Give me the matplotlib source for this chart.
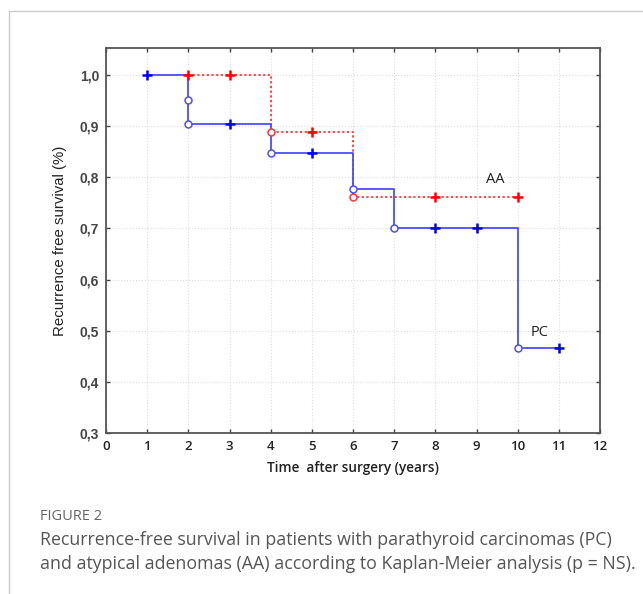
import matplotlib
matplotlib.use('Agg')
import matplotlib.pyplot as plt
from matplotlib.lines import Line2D

# PC - parathyroid carcinomas
pc_step_t = [1, 2, 2, 4, 6, 7, 10, 11]
pc_step_s = [1.0, 0.952, 0.905, 0.848, 0.778, 0.700, 0.467, 0.467]
pc_event_t = [2, 2, 4, 6, 7, 10]
pc_event_s = [0.952, 0.905, 0.848, 0.778, 0.700, 0.467]
pc_cens_t = [1, 3, 5, 8, 9, 11]
pc_cens_s = [1.0, 0.905, 0.848, 0.700, 0.700, 0.467]

# AA - atypical adenomas
aa_step_t = [2, 4, 6, 10]
aa_step_s = [1.0, 0.889, 0.762, 0.762]
aa_event_t = [4, 6]
aa_event_s = [0.889, 0.762]
aa_cens_t = [2, 3, 5, 8, 10]
aa_cens_s = [1.0, 1.0, 0.889, 0.762, 0.762]

x_ticks = list(range(0, 13))
y_ticks = [0.3, 0.4, 0.5, 0.6, 0.7, 0.8, 0.9, 1.0]
y_labels = ['0,3', '0,4', '0,5', '0,6', '0,7', '0,8', '0,9', '1,0']

fig = plt.figure(figsize=(6.43, 5.94), dpi=100)

# light frame around the figure block
fig.add_artist(Line2D([9 / 643, 1], [1 - 11 / 594] * 2, color='#cccccc', lw=1))
fig.add_artist(Line2D([9 / 643] * 2, [0, 1 - 11 / 594], color='#cccccc', lw=1))

ax = fig.add_axes([106 / 643, 1 - 433 / 594, 494 / 643, 385 / 594])

red = '#ff3333'
blue = '#4d4dff'

ax.step(aa_step_t, aa_step_s, where='post', color=red, lw=1.3, ls=(0, (1.2, 1.4)), zorder=3)
ax.step(pc_step_t, pc_step_s, where='post', color=blue, lw=1.3, zorder=4)

ax.plot(aa_event_t, aa_event_s, 'o', ms=5, mfc='white', mec=red, mew=1.1, zorder=5)
ax.plot(aa_cens_t, aa_cens_s, '+', ms=6.5, color='#ff0000', mew=1.8, zorder=5)
ax.plot(pc_event_t, pc_event_s, 'o', ms=5, mfc='white', mec=blue, mew=1.1, zorder=6)
ax.plot(pc_cens_t, pc_cens_s, '+', ms=6.5, color='#0000ee', mew=1.8, zorder=6)

ax.text(9.23, 0.795, 'AA', fontsize=10.5, family='Open Sans', color='#222222', va='center')
ax.text(10.32, 0.497, 'PC', fontsize=10.5, family='Open Sans', color='#222222', va='center')

ax.set_xlim(0, 12)
ax.set_ylim(0.3, 1.053)
ax.set_xticks(x_ticks)
ax.set_yticks(y_ticks)
ax.set_yticklabels(y_labels, family='Liberation Sans', fontsize=10, fontweight='bold', color='#444444')
ax.set_xticklabels([str(t) for t in x_ticks], family='Open Sans', fontsize=9.5,
                   fontweight='semibold', color='#222222')
ax.tick_params(direction='in', length=3, width=1, color='#444444', top=True, right=True, pad=5)
ax.grid(True, color='#dddddd', lw=0.8, ls=':')
for sp in ax.spines.values():
    sp.set_color('#555555')
    sp.set_linewidth(1.3)

ax.set_ylabel('Recurrence free survival (%)', family='Liberation Sans', fontsize=10.8,
              color='#222222', labelpad=9)
ax.set_xlabel('Time  after surgery (years)', family='Open Sans', fontsize=9.8,
              fontweight='semibold', color='#222222', labelpad=6)

fig.text(40 / 643, 1 - 516 / 594, 'FIGURE 2', family='Open Sans', fontsize=10.5, color='#666666', va='center')
fig.text(40 / 643, 1 - 540 / 594,
         'Recurrence-free survival in patients with parathyroid carcinomas (PC)',
         family='Open Sans', fontsize=12.8, color='#555555', va='center')
fig.text(40 / 643, 1 - 564 / 594,
         'and atypical adenomas (AA) according to Kaplan-Meier analysis (p = NS).',
         family='Open Sans', fontsize=12.8, color='#555555', va='center')

fig.savefig('out.png', dpi=100)
